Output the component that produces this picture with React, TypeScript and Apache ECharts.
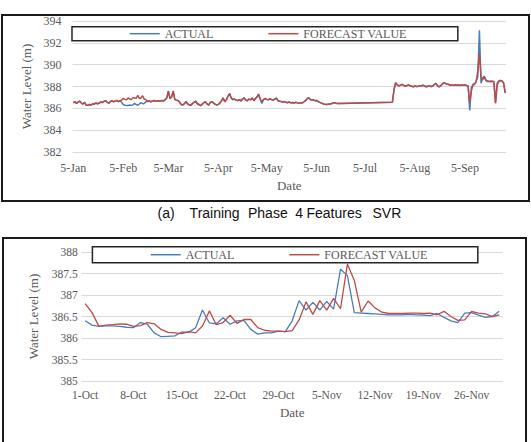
import React, { useEffect, useRef } from "react";
import * as echarts from "echarts";

const MONTHS = ["Jan", "Feb", "Mar", "Apr", "May", "Jun", "Jul", "Aug", "Sep", "Oct", "Nov", "Dec"];
const MONTH_DAYS = [31, 28, 31, 30, 31, 30, 31, 31, 30, 31, 30, 31];

// Daily labels such as "5-Jan", inclusive of both ends (month index is 0-based)
function dayRange(m0: number, d0: number, m1: number, d1: number): string[] {
  const out: string[] = [];
  let m = m0;
  let d = d0;
  for (;;) {
    out.push(`${d}-${MONTHS[m]}`);
    if (m === m1 && d === d1) break;
    d += 1;
    if (d > MONTH_DAYS[m]) {
      d = 1;
      m += 1;
    }
  }
  return out;
}

// ---- Training phase (a): 5-Jan .. 30-Sep, no records between 20-Jun and 21-Jul ----
const trainCategories = dayRange(0, 5, 8, 30);
const trainDatesSpring = dayRange(0, 5, 5, 19);
const trainDatesSummer = dayRange(6, 22, 8, 30);

const trainActualSpring = [
  386.5, 386.62, 386.45, 386.58, 386.66, 386.48, 386.4, 386.55, 386.3, 386.27,
  386.35, 386.3, 386.42, 386.38, 386.5, 386.42, 386.46, 386.58, 386.52, 386.64,
  386.7, 386.55, 386.48, 386.62, 386.7, 386.6, 386.66, 386.72, 386.62, 386.7,
  386.55, 386.35, 386.28, 386.25, 386.26, 386.3, 386.27, 386.32, 386.45, 386.35,
  386.28, 386.4, 386.52, 386.42, 386.45, 386.6,
  386.62, 386.7, 386.6, 386.66, 386.72, 386.64, 386.68, 386.7, 386.66, 386.72,
  386.68, 386.8, 386.95, 387.6, 386.9, 387.05, 387.55, 386.8, 386.75, 386.72,
  386.55, 386.35, 386.3,
  386.45, 386.62, 386.4, 386.32, 386.28, 386.45, 386.55, 386.65, 386.42, 386.35,
  386.25, 386.38, 386.52, 386.6, 386.4, 386.3,
  386.55, 386.62, 386.48, 386.38, 386.3, 386.36, 386.5, 386.7, 386.95, 386.6,
  386.8, 387.12, 387.38, 386.95, 386.8, 386.85, 386.75, 386.72, 386.8, 386.68,
  386.85, 386.95, 386.75, 386.7, 386.85, 386.78, 386.95, 386.7, 386.9, 387.05,
  387.32, 386.85, 386.45, 386.8, 386.9, 386.82, 386.78, 386.88, 386.8, 386.76,
  386.85, 386.92, 386.7, 386.65, 386.62, 386.58, 386.62, 386.55, 386.52, 386.58,
  386.5, 386.54, 386.48, 386.55, 386.5, 386.46, 386.52, 386.48, 386.58, 386.7,
  386.85, 386.98, 386.82, 386.75, 386.78, 386.7, 386.72, 386.62, 386.55, 386.48,
  386.42, 386.38, 386.35, 386.38, 386.4, 386.42, 386.48, 386.52, 386.46, 386.44,
  386.45,
];
const trainForecastSpring = [
  386.5, 386.62, 386.45, 386.58, 386.66, 386.48, 386.4, 386.55, 386.3, 386.27,
  386.35, 386.3, 386.42, 386.38, 386.5, 386.42, 386.46, 386.58, 386.52, 386.64,
  386.7, 386.55, 386.48, 386.62, 386.7, 386.6, 386.66, 386.72, 386.62, 386.7,
  386.75, 386.9, 386.82, 386.78, 386.95, 386.85, 386.8, 386.98, 386.95, 386.92,
  387.18, 386.9, 386.95, 387.15, 386.85, 386.8,
  386.62, 386.7, 386.6, 386.66, 386.72, 386.64, 386.68, 386.7, 386.66, 386.72,
  386.68, 386.8, 386.95, 387.55, 386.9, 387.05, 387.6, 386.8, 386.75, 386.72,
  386.55, 386.35, 386.3,
  386.45, 386.62, 386.4, 386.32, 386.28, 386.45, 386.55, 386.65, 386.42, 386.35,
  386.25, 386.38, 386.52, 386.6, 386.4, 386.3,
  386.55, 386.62, 386.48, 386.38, 386.3, 386.36, 386.5, 386.7, 386.95, 386.6,
  386.8, 387.12, 387.3, 386.95, 386.8, 386.85, 386.75, 386.72, 386.8, 386.68,
  386.85, 386.95, 386.75, 386.7, 386.85, 386.78, 386.95, 386.7, 386.9, 387.05,
  387.25, 386.85, 386.6, 386.8, 386.9, 386.82, 386.78, 386.88, 386.8, 386.76,
  386.85, 386.92, 386.7, 386.65, 386.62, 386.58, 386.62, 386.55, 386.52, 386.58,
  386.5, 386.54, 386.48, 386.55, 386.5, 386.46, 386.52, 386.48, 386.58, 386.7,
  386.85, 386.98, 386.82, 386.75, 386.78, 386.7, 386.72, 386.62, 386.55, 386.48,
  386.42, 386.38, 386.35, 386.38, 386.4, 386.42, 386.48, 386.52, 386.46, 386.44,
  386.45,
];
const trainActualSummer = [
  386.55, 387.7, 388.35, 388.15, 388.05, 388.12, 388.2, 388.1, 388.02, 388.08,
  388.14, 388.06, 388.02, 387.98, 388.05, 388.0, 388.03, 388.08, 388.05, 388.12,
  388.04, 387.98, 388.02, 388.06, 388.0, 388.05, 388.18, 388.28, 388.05, 387.98,
  388.06, 388.22, 388.36, 388.28, 388.22, 388.18, 388.12, 388.15, 388.1, 388.16,
  388.12, 388.14, 388.1, 388.15, 388.12, 388.14, 388.1, 388.05, 385.8, 387.9,
  388.2, 388.25, 388.5, 388.9, 393.15, 388.3, 388.75, 388.95, 388.55, 388.45,
  388.48, 388.45, 388.5, 388.4, 386.55, 388.3, 388.5, 388.55, 388.5, 388.3,
  387.45,
];
const trainForecastSummer = [
  386.55, 387.7, 388.35, 388.15, 388.05, 388.12, 388.2, 388.1, 388.02, 388.08,
  388.14, 388.06, 388.02, 387.98, 388.05, 388.0, 388.03, 388.08, 388.05, 388.12,
  388.04, 387.98, 388.02, 388.06, 388.0, 388.05, 388.18, 388.28, 388.05, 387.98,
  388.06, 388.22, 388.36, 388.28, 388.22, 388.18, 388.12, 388.15, 388.1, 388.16,
  388.12, 388.14, 388.1, 388.15, 388.12, 388.14, 388.1, 388.05, 386.5, 387.6,
  388.1, 388.2, 388.45, 389.4, 391.05, 388.9, 388.6, 388.9, 388.6, 388.5,
  388.45, 388.48, 388.45, 388.45, 386.45, 388.1, 388.45, 388.55, 388.5, 388.35,
  387.4,
];

// ---- Testing phase: 1-Oct .. 30-Nov ----
const testCategories = dayRange(9, 1, 10, 30);
const testActual = [
  386.4, 386.3, 386.27, 386.28, 386.28, 386.27, 386.25, 386.24, 386.36, 386.32,
  386.12, 386.03, 386.04, 386.05, 386.14, 386.13, 386.24, 386.65, 386.35, 386.33,
  386.47, 386.32, 386.4, 386.41, 386.2, 386.09, 386.12, 386.12, 386.16, 386.15,
  386.4, 386.87, 386.65, 386.83, 386.65, 386.85, 386.67, 387.6, 387.45, 386.59,
  386.58, 386.57, 386.56, 386.55, 386.54, 386.54, 386.54, 386.55, 386.54, 386.53,
  386.52, 386.57, 386.48, 386.4, 386.36, 386.58, 386.59, 386.53, 386.48, 386.5,
  386.62,
];
const testForecast = [
  386.8, 386.59, 386.27, 386.3, 386.31, 386.33, 386.32, 386.27, 386.29, 386.36,
  386.33, 386.2, 386.13, 386.12, 386.1, 386.15, 386.12, 386.28, 386.63, 386.31,
  386.36, 386.53, 386.34, 386.43, 386.43, 386.24, 386.18, 386.16, 386.16, 386.15,
  386.17, 386.42, 386.84, 386.55, 386.87, 386.65, 386.92, 386.68, 387.72, 387.34,
  386.6, 386.86, 386.7, 386.6, 386.57, 386.57, 386.57, 386.58, 386.58, 386.57,
  386.58, 386.54, 386.62, 386.5, 386.41, 386.42, 386.62, 386.58, 386.56, 386.5,
  386.54,
];

const SERIF = '"Liberation Serif", "Times New Roman", serif';
const SANS = '"Liberation Sans", Arial, sans-serif';
const TEXT_GREY = "#595959";
const GRID_GREY = "#d9d9d9";
const BLUE = "#4a7ebb";
const RED = "#be4b48";

function alignTo(categories: string[], dates: string[][], values: number[][]) {
  const lookup = new Map<string, number>();
  dates.forEach((ds, k) => ds.forEach((d, i) => lookup.set(d, values[k][i])));
  return categories.map((c) => (lookup.has(c) ? (lookup.get(c) as number) : null));
}

function buildOption(): echarts.EChartsOption {
  const trainA = alignTo(trainCategories, [trainDatesSpring, trainDatesSummer], [trainActualSpring, trainActualSummer]);
  const trainF = alignTo(trainCategories, [trainDatesSpring, trainDatesSummer], [trainForecastSpring, trainForecastSummer]);

  const axisText = { fontFamily: SERIF, fontSize: 12, color: TEXT_GREY };
  const nameText = { fontFamily: SERIF, fontSize: 13, color: TEXT_GREY };
  const legendBase = {
    orient: "horizontal" as const,
    icon: "rect",
    itemWidth: 30,
    itemHeight: 1.5,
    itemGap: 55,
    backgroundColor: "#ffffff",
    borderColor: "#262626",
    borderWidth: 1.5,
    borderRadius: 0,
    textStyle: { fontFamily: SERIF, fontSize: 12, color: TEXT_GREY },
    data: ["ACTUAL", "FORECAST VALUE"],
  };

  const caption = [
    { t: "(a)", x: 157.5 },
    { t: "Training", x: 189.6 },
    { t: "Phase", x: 248 },
    { t: "4", x: 295.3 },
    { t: "Features", x: 306.5 },
    { t: "SVR", x: 372.5 },
  ];

  return {
    animation: false,
    backgroundColor: "#ffffff",
    grid: [
      { left: 72.5, right: 25, top: 21, height: 131 },
      { left: 81.7, right: 28.3, top: 252, height: 129 },
    ],
    legend: [
      { ...legendBase, left: 72, top: 26.7, padding: [1, 51, 1, 57.7] },
      { ...legendBase, left: 92.4, top: 246.7, padding: [2, 50, 2, 58.3] },
    ],
    xAxis: [
      {
        type: "category",
        gridIndex: 0,
        data: trainCategories,
        boundaryGap: true,
        axisLine: { show: false },
        axisTick: { show: false },
        axisLabel: {
          ...axisText,
          margin: 10,
          interval: (_i: number, v: string) => v.split("-")[0] === "5",
        },
        name: "Date",
        nameLocation: "middle",
        nameGap: 27,
        nameTextStyle: nameText,
      },
      {
        type: "category",
        gridIndex: 1,
        data: testCategories,
        boundaryGap: true,
        axisLine: { show: false },
        axisTick: { show: false },
        axisLabel: { ...axisText, fontSize: 11.5, margin: 8, interval: 6 },
        name: "Date",
        nameLocation: "middle",
        nameGap: 25,
        nameTextStyle: nameText,
      },
    ],
    yAxis: [
      {
        type: "value",
        gridIndex: 0,
        min: 382,
        max: 394,
        interval: 2,
        axisLine: { show: false },
        axisTick: { show: false },
        splitLine: { lineStyle: { color: GRID_GREY, width: 1 } },
        axisLabel: { ...axisText, margin: 11 },
        name: "Water Level (m)",
        nameLocation: "middle",
        nameRotate: 90,
        nameGap: 27,
        nameTextStyle: nameText,
      },
      {
        type: "value",
        gridIndex: 1,
        min: 385,
        max: 388,
        interval: 0.5,
        axisLine: { show: false },
        axisTick: { show: false },
        splitLine: { lineStyle: { color: GRID_GREY, width: 1 } },
        axisLabel: { ...axisText, fontSize: 11.5, margin: 4 },
        name: "Water Level (m)",
        nameLocation: "middle",
        nameRotate: 90,
        nameGap: 42,
        nameTextStyle: nameText,
      },
    ],
    series: [
      {
        name: "ACTUAL",
        type: "line",
        xAxisIndex: 0,
        yAxisIndex: 0,
        data: trainA,
        connectNulls: true,
        symbol: "none",
        lineStyle: { color: BLUE, width: 1.5 },
        itemStyle: { color: BLUE },
      },
      {
        name: "FORECAST VALUE",
        type: "line",
        xAxisIndex: 0,
        yAxisIndex: 0,
        data: trainF,
        connectNulls: true,
        symbol: "none",
        lineStyle: { color: RED, width: 1.5 },
        itemStyle: { color: RED },
      },
      {
        name: "ACTUAL",
        type: "line",
        xAxisIndex: 1,
        yAxisIndex: 1,
        data: testActual,
        symbol: "none",
        lineStyle: { color: BLUE, width: 1.3 },
        itemStyle: { color: BLUE },
      },
      {
        name: "FORECAST VALUE",
        type: "line",
        xAxisIndex: 1,
        yAxisIndex: 1,
        data: testForecast,
        symbol: "none",
        lineStyle: { color: RED, width: 1.3 },
        itemStyle: { color: RED },
      },
    ],
    graphic: [
      {
        type: "rect",
        shape: { x: 2, y: 15, width: 527, height: 186 },
        style: { fill: "none", stroke: "#1a1a1a", lineWidth: 2 },
        silent: true,
      },
      {
        type: "rect",
        shape: { x: 3, y: 238, width: 523, height: 240 },
        style: { fill: "none", stroke: "#1a1a1a", lineWidth: 2 },
        silent: true,
      },
      ...caption.map((c) => ({
        type: "text" as const,
        x: c.x,
        y: 213,
        style: {
          text: c.t,
          font: `14px ${SANS}`,
          fill: "#111111",
          align: "left",
          verticalAlign: "middle",
        },
        silent: true,
      })),
    ],
  } as echarts.EChartsOption;
}

export default function App() {
  const ref = useRef<HTMLDivElement>(null);

  useEffect(() => {
    if (!ref.current) return;
    const chart = echarts.init(ref.current, undefined, { renderer: "svg" });
    chart.setOption(buildOption());
    return () => chart.dispose();
  }, []);

  return (
    <div
      ref={ref}
      style={{ position: "fixed", left: 0, top: 0, width: 531, height: 442, background: "#ffffff" }}
    />
  );
}
